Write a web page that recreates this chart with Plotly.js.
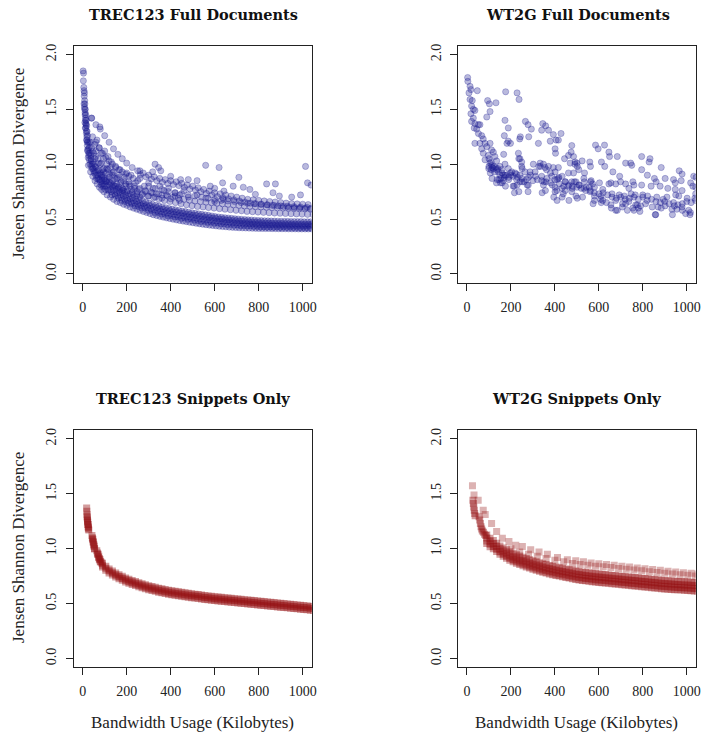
<!DOCTYPE html>
<html><head><meta charset="utf-8">
<script src="https://cdn.plot.ly/plotly-3.0.1.min.js"></script>
<style>html,body{margin:0;padding:0;background:#fff}#chart{width:702px;height:736px}</style>
</head><body><div id="chart"></div>
<script>
// ---------- tick labels ----------
const xTickVals = [0, 200, 400, 600, 800, 1000];
const xTickText = ["0", "200", "400", "600", "800", "1000"];
const yTickVals = [0, 0.5, 1, 1.5, 2];
const yTickText = ["0.0", "0.5", "1.0", "1.5", "2.0"];
const panelTitles = ["TREC123 Full Documents", "WT2G Full Documents", "TREC123 Snippets Only", "WT2G Snippets Only"];
const yLabel = "Jensen Shannon Divergence";
const xLabel = "Bandwidth Usage (Kilobytes)";

// ---------- TREC123 full documents ----------
const trecLowAX = [30,40,50,60,70,80,90,100,115,130,145,160,175,190,205,220,235,250,265,280,295,310,325,340,355,370,385,400,415,430,445,460,475,490,505,520,535,550,565,580,595,610,625,640,655,670,685,700,715,730,745,760,775,790,805,820,835,850,865,880,895,910,925,940,955,970,985,1000,1015,1030,1045];
const trecLowAY = [1.04,0.98,0.94,0.9,0.87,0.84,0.82,0.8,0.77,0.75,0.73,0.71,0.695,0.68,0.67,0.655,0.645,0.635,0.625,0.615,0.605,0.595,0.585,0.578,0.57,0.563,0.556,0.55,0.544,0.538,0.532,0.527,0.522,0.517,0.512,0.507,0.502,0.498,0.494,0.49,0.486,0.482,0.479,0.476,0.473,0.47,0.467,0.465,0.462,0.46,0.458,0.456,0.454,0.452,0.45,0.449,0.448,0.447,0.446,0.445,0.444,0.443,0.443,0.442,0.442,0.441,0.441,0.44,0.44,0.44,0.44];
const trecLowBX = [37,47,57,67,77,87,97,107,122,137,152,167,182,197,212,227,242,257,272,287,302,317,332,347,362,377,392,407,422,437,452,467,482,497,512,527,542,557,572,587,602,617,632,647,662,677,692,707,722,737,752,767,782,797,812,827,842,857,872,887,902,917,932,947,962,977,992,1007,1022,1037,1052];
const trecLowBY = [1.08,1.02,0.98,0.94,0.91,0.88,0.86,0.84,0.81,0.79,0.77,0.75,0.735,0.72,0.71,0.695,0.685,0.675,0.665,0.655,0.645,0.635,0.625,0.618,0.61,0.603,0.596,0.59,0.584,0.578,0.572,0.567,0.562,0.557,0.552,0.547,0.542,0.538,0.533,0.528,0.523,0.519,0.515,0.512,0.509,0.506,0.503,0.5,0.497,0.495,0.493,0.491,0.489,0.487,0.485,0.484,0.483,0.482,0.481,0.48,0.479,0.478,0.478,0.477,0.477,0.476,0.476,0.475,0.475,0.475,0.475];
const trecLowCX = [26,36,46,56,66,76,86,96,111,126,141,156,171,186,201,216,231,246,261,276,291,306,321,336,351,366,381,396,411,426,441,456,471,486,501,516,531,546,561,576,591,606,621,636,651,666,681,696,711,726,741,756,771,786,801,816,831,846,861,876,891,906,921,936,951,966,981,996,1011,1026,1041];
const trecLowCY = [0.99,0.93,0.89,0.85,0.82,0.79,0.77,0.75,0.72,0.7,0.68,0.66,0.65,0.635,0.625,0.61,0.6,0.59,0.58,0.57,0.56,0.55,0.54,0.533,0.525,0.518,0.511,0.505,0.499,0.493,0.487,0.482,0.477,0.472,0.467,0.462,0.457,0.453,0.449,0.445,0.442,0.438,0.435,0.432,0.43,0.427,0.425,0.423,0.421,0.42,0.419,0.418,0.417,0.416,0.415,0.415,0.414,0.414,0.413,0.413,0.412,0.412,0.412,0.411,0.411,0.411,0.41,0.41,0.41,0.41,0.41];
const trecLowDX = [33,43,53,63,73,83,93,103,118,133,148,163,178,193,208,223,238,253,268,283,298,313,328,343,358,373,388,403,418,433,448,463,478,493,508,523,538,553,568,583,598,613,628,643,658,673,688,703,718,733,748,763,778,793,808,823,838,853,868,883,898,913,928,943,958,973,988,1003,1018,1033];
const trecLowDY = [1.0,0.96,0.92,0.87,0.86,0.81,0.8,0.77,0.76,0.72,0.715,0.69,0.67,0.66,0.645,0.64,0.62,0.615,0.6,0.6,0.58,0.578,0.56,0.56,0.545,0.545,0.53,0.532,0.52,0.52,0.507,0.51,0.498,0.5,0.49,0.488,0.478,0.48,0.47,0.472,0.462,0.465,0.456,0.458,0.45,0.452,0.444,0.446,0.44,0.442,0.436,0.438,0.432,0.434,0.428,0.431,0.426,0.429,0.425,0.428,0.424,0.427,0.423,0.426,0.422,0.425,0.421,0.424,0.42,0.423];
const trecLowEX = [28,38,48,58,68,78,88,98,110,125,140,155,170,185,200,215,230,245,260,275,290,305,320,335,350,365,380,395,410,425,440,455,470,485,500,515,530,545,560,575,590,605,620,635,650,665,680,695,710,725,740,755,770,785,800,815,830,845,860,875,890,905,920,935,950,965,980,995,1010,1025,1040];
const trecLowEY = [1.08,1.03,0.96,0.93,0.9,0.86,0.85,0.82,0.8,0.77,0.76,0.74,0.72,0.71,0.69,0.685,0.665,0.66,0.645,0.64,0.625,0.622,0.607,0.605,0.592,0.59,0.578,0.577,0.566,0.565,0.555,0.554,0.544,0.543,0.535,0.533,0.525,0.524,0.516,0.515,0.508,0.507,0.5,0.499,0.493,0.492,0.487,0.486,0.482,0.481,0.477,0.476,0.473,0.472,0.469,0.468,0.466,0.465,0.463,0.462,0.461,0.46,0.459,0.458,0.457,0.456,0.456,0.455,0.455,0.454,0.454];
const trecMid1X = [60,85,110,135,160,185,210,235,260,285,310,335,360,385,410,435,460,485,510,535,560,585,610,635,660,685,710,735,760,785,810,835,860,885,910,935,960,985,1010,1035];
const trecMid1Y = [1.07,1.01,0.96,0.92,0.88,0.85,0.82,0.8,0.78,0.76,0.745,0.73,0.72,0.71,0.7,0.69,0.68,0.672,0.665,0.66,0.655,0.65,0.645,0.64,0.635,0.63,0.625,0.62,0.617,0.614,0.611,0.608,0.605,0.603,0.601,0.599,0.597,0.595,0.593,0.591];
const trecMid2X = [72,97,122,147,172,197,222,247,272,297,322,347,372,397,422,447,472,497,522,547,572,597,622,647,672,697,722,747,772,797,822,847,872,897,922,947,972,997,1022,1047];
const trecMid2Y = [1.01,0.96,0.91,0.87,0.83,0.8,0.77,0.75,0.73,0.71,0.695,0.68,0.67,0.66,0.65,0.64,0.63,0.622,0.615,0.61,0.605,0.6,0.595,0.59,0.585,0.58,0.575,0.57,0.567,0.564,0.561,0.558,0.555,0.553,0.551,0.549,0.547,0.545,0.543,0.541];
const trecUp1X = [40,60,80,100,120,140,160,180,200,225,250,275,300,325,350,375,400,425,450,475,500,525,550,575,600,625,650,675,700,725,750,775,800,825,850,875,900,925,950,975,1000,1025];
const trecUp1Y = [1.42,1.36,1.32,1.26,1.2,1.14,1.09,1.05,1.01,0.97,0.94,0.92,0.9,0.885,0.87,0.86,0.85,0.84,0.825,0.81,0.8,0.785,0.77,0.755,0.74,0.73,0.72,0.71,0.7,0.69,0.68,0.675,0.67,0.665,0.66,0.655,0.65,0.645,0.64,0.638,0.635,0.632];
const trecUp2X = [262,287,312,337,362,387,412,437,462,487,512,537,562,587,612,637,662,687,712,737,762,787,812,837,862,887,912,937,962,987,1012,1037];
const trecUp2Y = [0.905,0.885,0.865,0.85,0.835,0.825,0.815,0.805,0.79,0.775,0.765,0.75,0.735,0.72,0.705,0.695,0.685,0.675,0.665,0.655,0.645,0.64,0.635,0.63,0.625,0.62,0.615,0.61,0.605,0.603,0.6,0.597];
const trecUp3X = [300,330,360,390,420,450,480,510,540,570,600,630,660,690,720,750,780,810,840,870,900,930,960,990,1020];
const trecUp3Y = [0.8,0.78,0.77,0.75,0.74,0.73,0.72,0.71,0.7,0.69,0.68,0.67,0.665,0.66,0.65,0.645,0.64,0.635,0.63,0.625,0.62,0.617,0.613,0.61,0.607];
const trecColX = [2,4,3,5,6,8,7,9,10,8,12,11,14,13,16,15,18,12,20,17,22,19,24,21,26,23,28,25,30,35,33,38,45,42,55,50,6,9,11,13,15,17,19,21,10,14,18,22];
const trecColY = [1.85,1.83,1.76,1.70,1.67,1.65,1.62,1.58,1.55,1.52,1.5,1.47,1.45,1.42,1.4,1.37,1.35,1.33,1.3,1.28,1.26,1.22,1.2,1.17,1.14,1.12,1.1,1.06,1.15,1.2,1.1,1.05,1.12,1.0,1.05,1.1,1.55,1.5,1.45,1.4,1.36,1.3,1.25,1.2,1.38,1.33,1.22,1.13];
const trecFillX = [30,40,45,55,60,65,70,75,80,85,90,95,100,105,110,115,120,125,130,135,140,150,155,165,170,180,190,200,210,220,240,260,280,300,320,350,370,390,420,440,460,480,520,560,600,640];
const trecFillY = [1.2,1.15,1.25,1.18,1.12,1.22,1.05,1.15,1.0,1.1,0.95,1.05,1.12,0.92,1.0,1.07,0.88,0.97,1.02,0.85,0.93,0.98,0.82,0.9,0.95,0.78,0.88,0.92,0.84,0.9,0.83,0.87,0.8,0.83,0.78,0.8,0.76,0.78,0.74,0.72,0.76,0.7,0.72,0.69,0.66,0.68];
const trecFill2X = [50,60,70,80,90,100,110,120,130,140,150,160,170,180,190,200,215,230,245,260,60,75,90,105,120,135,150,165,180,195,210,230,250];
const trecFill2Y = [1.0,0.97,0.95,0.92,0.9,0.87,0.86,0.84,0.82,0.81,0.8,0.78,0.77,0.76,0.75,0.745,0.73,0.72,0.71,0.7,1.2,1.15,1.1,1.06,1.03,1.0,0.97,0.95,0.93,0.91,0.89,0.87,0.85];
const trecFill3X = [85,95,105,115,125,135,145,155,165,175,185,195,205,215,225,235,245,255,270,285,300,315,330,345,360,380,400,420,440];
const trecFill3Y = [0.9,0.93,0.85,0.95,0.83,0.9,0.8,0.87,0.79,0.84,0.77,0.82,0.76,0.8,0.745,0.78,0.73,0.77,0.72,0.75,0.71,0.74,0.7,0.73,0.69,0.72,0.685,0.71,0.67];
const trecOutX = [329,345,318,355,400,445,559,620,1013,636,710,684,730,836,876,1022,1038,642,785,865,894,260,78,41,520,480,600,580,760,950,990];
const trecOutY = [1.0,0.97,0.93,0.94,0.89,0.86,0.99,0.97,0.98,0.83,0.88,0.8,0.79,0.82,0.82,0.83,0.81,0.755,0.725,0.74,0.71,0.94,1.34,1.42,0.85,0.86,0.78,0.8,0.77,0.7,0.72];

// ---------- WT2G full documents (x, y pairs) ----------
const wt2gFullPts = [
[3,1.79],[4,1.755],[14,1.71],[18,1.68],[9,1.65],[14,1.59],[24,1.58],[21,1.53],[29,1.50],[36,1.49],[18,1.46],[29,1.42],[21,1.39],[36,1.37],[52,1.36],[59,1.36],[44,1.32],[33,1.33],[52,1.28],[67,1.26],[74,1.23],[36,1.19],[59,1.19],[82,1.19],[67,1.14],[90,1.16],[105,1.19],[112,1.13],[74,1.10],[97,1.08],[120,1.11],[127,1.07],[82,1.04],[105,1.01],[112,0.99],[135,1.03],[150,0.98],[120,0.96],[143,0.93],[158,0.95],[173,1.0],[154,0.87],[173,0.90],[188,0.96],[204,0.93],[219,0.92],[234,1.10],[241,1.05],[249,1.02],[249,0.98],[226,0.86],[241,0.84],[215,0.80],[279,0.81],[264,0.93],[287,0.93],[302,1.0],[310,0.93],[333,1.01],[348,1.0],[355,0.97],[371,0.98],[393,0.97],[401,0.93],[416,0.97],[340,0.89],[363,0.87],[386,0.89],[416,0.87],[447,0.84],[462,0.92],[485,0.92],[477,0.84],[348,0.81],[401,0.79],[409,0.76],[432,0.78],[447,0.76],[477,0.75],[401,0.75],
[47,1.67],[176,1.66],[228,1.65],[237,1.59],[94,1.58],[102,1.55],[132,1.56],[105,1.48],[90,1.43],[173,1.40],[188,1.33],[170,1.26],[188,1.21],[243,1.25],[266,1.39],[278,1.36],[293,1.32],[281,1.25],[325,1.19],[345,1.37],[358,1.35],[340,1.31],[371,1.31],[393,1.27],[428,1.28],[379,1.21],[406,1.22],[416,1.22],[401,1.14],[477,1.17],[474,1.11],[485,1.07],[462,1.08],[444,1.05],[492,1.02],[167,1.09],[403,1.10],[236,1.05],[251,0.96],[240,1.23],[198,1.19],[182,1.19],
[585,1.174],[597,1.14],[626,1.174],[646,1.11],[649,1.07],[684,1.07],[501,1.01],[524,1.03],[612,1.02],[627,0.98],[562,0.98],[664,0.93],[722,1.01],[745,1.01],[750,0.99],[795,1.07],[833,1.05],[829,1.02],[795,0.95],[821,0.90],[884,0.97],[966,0.94],[979,0.91],[1032,0.89],[940,0.86],[948,0.83],[975,0.85],[853,0.87],[902,0.87],[861,0.84],[695,0.89],[699,0.84],[677,0.82],[646,0.82],[655,0.83],[755,0.84],[760,0.81],[737,0.78],[722,0.82],[795,0.81],[838,0.80],[879,0.80],[914,0.78],[948,0.77],[979,0.76],[1028,0.80],[496,0.84],[534,0.84],[565,0.85],[572,0.82],[603,0.83],[511,0.81],[542,0.79],[557,0.79],[580,0.79],[618,0.77],[496,0.71],[526,0.70],[580,0.71],[610,0.71],[660,0.73],[693,0.72],[716,0.71],[747,0.73],[766,0.72],[800,0.72],[822,0.71],[864,0.70],[893,0.68],[910,0.70],[950,0.72],[964,0.71],[1002,0.69],[1037,0.69],[580,0.67],[618,0.67],[655,0.63],[677,0.67],[708,0.64],[722,0.64],[737,0.66],[768,0.63],[790,0.62],[813,0.64],[843,0.61],[870,0.61],[902,0.62],[933,0.59],[955,0.59],[979,0.61],[1009,0.58],[1017,0.56],[677,0.58],[857,0.54],[755,0.60],[780,0.60],[884,0.60],[944,0.62],
[1043,0.88],[1041,0.73],[1041,0.79],[1018,0.83],[470,1.01],[491,1.0],
[289,0.90],[312,0.89],[274,0.81],[278,0.75],[236,0.75],[216,0.74],[228,0.81],[251,0.84],[198,0.92],[167,0.90],[160,0.83],[175,0.80],[210,0.80],[190,0.86],[152,0.83],[137,0.86],[114,0.87],[134,0.83],[106,0.92],[99,0.96],[122,0.98],[350,0.84],[357,0.76],[342,0.74],[388,0.81],[410,0.86],[418,0.88],[380,0.92],[362,0.95],[334,0.98],[327,0.98],[433,0.89],[448,0.84],[464,0.81],[479,0.78],[489,0.84],[509,0.81],[532,0.87],[562,0.84],[535,0.92],[509,0.95],[502,0.98],[559,1.02],
[395,0.70],[410,0.67],[433,0.70],[438,0.73],[464,0.67],[502,0.69],[532,0.78],[562,0.76],[574,0.64],[608,0.68],[611,0.65],[635,0.65],[657,0.60],[684,0.58],[707,0.61],[730,0.58],[760,0.58],[775,0.63],[787,0.57],[859,0.54],[935,0.54],[980,0.58],[995,0.55],[1015,0.54],
[100,1.05],[110,1.02],[130,0.97],[140,0.96],[160,0.92],[180,0.9],[200,0.9],[110,0.95],[125,0.93],[150,0.9],[170,0.88],[190,0.88],[210,0.89],[230,0.88],[250,0.87],[270,0.86],[100,0.98],[115,0.97],[135,0.95],[145,0.86],[165,0.85],[225,0.91],[240,0.9],[260,0.84],[280,0.88],[300,0.85],[320,0.86],[340,0.85],[360,0.84],[380,0.83],[400,0.86],[420,0.82],[440,0.8],[460,0.8],[480,0.8],[500,0.79],[520,0.78],[540,0.76],[560,0.75],[580,0.74],[600,0.73],[620,0.74],[640,0.72],[660,0.7],[680,0.69],[700,0.7],[720,0.68],[740,0.69],[760,0.7],[780,0.68],[800,0.7],[820,0.67],[840,0.68],[860,0.66],[880,0.65],[900,0.66],[920,0.64],[940,0.65],[960,0.63],[980,0.64],[1000,0.66],[1020,0.65],[1040,0.67]
];

// ---------- TREC123 snippets ----------
const snipX = [90,105,120,135,150,165,180,195,210,225,240,255,270,285,300,315,330,345,360,375,390,405,420,435,450,465,480,495,510,525,540,555,570,585,600,615,630,645,660,675,690,705,720,735,750,765,780,795,810,825,840,855,870,885,900,915,930,945,960,975,990,1005,1020,1035,1050];
const trecSnipLow = [0.832,0.804,0.779,0.76,0.742,0.727,0.712,0.697,0.685,0.674,0.664,0.654,0.645,0.636,0.627,0.619,0.612,0.604,0.598,0.592,0.586,0.581,0.576,0.571,0.567,0.562,0.558,0.554,0.55,0.546,0.542,0.538,0.534,0.53,0.527,0.524,0.521,0.518,0.515,0.512,0.509,0.506,0.503,0.5,0.497,0.494,0.491,0.488,0.485,0.482,0.479,0.476,0.473,0.47,0.467,0.464,0.461,0.458,0.455,0.452,0.449,0.446,0.443,0.44,0.437];
const trecSnipMid = [0.85,0.822,0.797,0.778,0.76,0.745,0.73,0.715,0.703,0.692,0.682,0.672,0.663,0.654,0.645,0.637,0.63,0.622,0.616,0.61,0.604,0.599,0.594,0.589,0.585,0.58,0.576,0.572,0.568,0.564,0.56,0.556,0.552,0.548,0.545,0.542,0.539,0.536,0.533,0.53,0.527,0.524,0.521,0.518,0.515,0.512,0.509,0.506,0.503,0.5,0.497,0.494,0.491,0.488,0.485,0.482,0.479,0.476,0.473,0.47,0.467,0.464,0.461,0.458,0.455];
const trecSnipHigh = [0.868,0.84,0.815,0.796,0.778,0.763,0.748,0.733,0.721,0.71,0.7,0.69,0.681,0.672,0.663,0.655,0.648,0.64,0.634,0.628,0.622,0.617,0.612,0.607,0.603,0.598,0.594,0.59,0.586,0.582,0.578,0.574,0.57,0.566,0.563,0.56,0.557,0.554,0.551,0.548,0.545,0.542,0.539,0.536,0.533,0.53,0.527,0.524,0.521,0.518,0.515,0.512,0.509,0.506,0.503,0.5,0.497,0.494,0.491,0.488,0.485,0.482,0.479,0.476,0.473];
const trecSnipEarlyX = [18,19,20,21,22,23,24,25,26,42,44,46,48,50,52,54,64,67,70,73,76,79,82,86,20,22,24,26,28,45,48,51,54,68,72,76,80];
const trecSnipEarlyY = [1.37,1.34,1.31,1.28,1.26,1.24,1.22,1.20,1.18,1.12,1.10,1.08,1.06,1.04,1.02,1.0,0.98,0.96,0.95,0.93,0.91,0.9,0.88,0.87,1.29,1.25,1.22,1.19,1.17,1.09,1.06,1.03,1.0,0.95,0.92,0.9,0.88];

// ---------- WT2G snippets ----------
const wt2gDarkLow2 = [1.048,1.018,0.998,0.973,0.948,0.93,0.912,0.894,0.88,0.868,0.856,0.844,0.834,0.823,0.813,0.804,0.795,0.786,0.778,0.77,0.763,0.756,0.75,0.744,0.738,0.732,0.726,0.72,0.715,0.711,0.707,0.703,0.699,0.696,0.693,0.69,0.687,0.684,0.681,0.678,0.675,0.672,0.669,0.666,0.663,0.66,0.657,0.654,0.651,0.648,0.645,0.642,0.639,0.636,0.633,0.631,0.629,0.627,0.625,0.623,0.621,0.619,0.617,0.615,0.613];
const wt2gDarkLo = [1.07,1.04,1.02,0.995,0.97,0.952,0.934,0.916,0.902,0.89,0.878,0.866,0.856,0.845,0.835,0.826,0.817,0.808,0.8,0.792,0.785,0.778,0.772,0.766,0.76,0.754,0.748,0.742,0.737,0.733,0.729,0.725,0.721,0.718,0.715,0.712,0.709,0.706,0.703,0.7,0.697,0.694,0.691,0.688,0.685,0.682,0.679,0.676,0.673,0.67,0.667,0.664,0.661,0.658,0.655,0.653,0.651,0.649,0.647,0.645,0.643,0.641,0.639,0.637,0.635];
const wt2gDarkMid = [1.097,1.067,1.047,1.022,0.997,0.979,0.961,0.943,0.929,0.917,0.905,0.893,0.883,0.872,0.862,0.853,0.844,0.835,0.827,0.819,0.812,0.805,0.799,0.793,0.787,0.781,0.775,0.769,0.764,0.76,0.756,0.752,0.748,0.745,0.742,0.739,0.736,0.733,0.73,0.727,0.724,0.721,0.718,0.715,0.712,0.709,0.706,0.703,0.7,0.697,0.694,0.691,0.688,0.685,0.682,0.68,0.678,0.676,0.674,0.672,0.67,0.668,0.666,0.664,0.662];
const wt2gDarkHi = [1.125,1.095,1.075,1.05,1.025,1.007,0.989,0.971,0.957,0.945,0.933,0.921,0.911,0.9,0.89,0.881,0.872,0.863,0.855,0.847,0.84,0.833,0.827,0.821,0.815,0.809,0.803,0.797,0.792,0.788,0.784,0.78,0.776,0.773,0.77,0.767,0.764,0.761,0.758,0.755,0.752,0.749,0.746,0.743,0.74,0.737,0.734,0.731,0.728,0.725,0.722,0.719,0.716,0.713,0.71,0.708,0.706,0.704,0.702,0.7,0.698,0.696,0.694,0.692,0.69];
const wt2gDarkEarlyX = [27,29,31,33,35,37,55,58,61,64,67,70,75,80,85];
const wt2gDarkEarlyY = [1.44,1.41,1.38,1.35,1.32,1.3,1.29,1.26,1.23,1.2,1.18,1.16,1.15,1.13,1.12];
const wt2gLight1X = [25,32,51,74,83,112,135,161,191,222,252,290,328,366,412,457,495,530,565,600,635,670,705,740,775,810,845,880,915,950,985,1020,1050];
const wt2gLight1Y = [1.573,1.488,1.44,1.35,1.31,1.23,1.155,1.094,1.064,1.03,1.02,0.99,0.97,0.95,0.92,0.9,0.89,0.88,0.87,0.862,0.855,0.848,0.84,0.833,0.825,0.818,0.81,0.803,0.795,0.788,0.781,0.775,0.77];
const wt2gLight2X = [200,240,280,320,360,400,440,480,515,550,585,620,655,690,725,760,795,830,865,900,935,970,1005,1040];
const wt2gLight2Y = [1.0,0.97,0.95,0.93,0.91,0.895,0.88,0.865,0.855,0.85,0.84,0.835,0.828,0.82,0.812,0.805,0.798,0.79,0.783,0.776,0.77,0.763,0.757,0.752];

// ---------- build ----------
const blue = 'rgba(28,28,145,0.31)';
const blueEdge = 'rgba(28,28,145,0.35)';
const red = 'rgba(150,20,22,0.42)';
const redLight = 'rgba(150,20,22,0.33)';
function circles(x, y, ax) {
  return {type:'scatter', mode:'markers', x:x, y:y, xaxis:'x'+ax, yaxis:'y'+ax, hoverinfo:'skip',
    marker:{symbol:'circle', size:6.2, color:blue, line:{width:0.8, color:blueEdge}}};
}
function squares(x, y, ax, col) {
  return {type:'scatter', mode:'markers', x:x, y:y, xaxis:'x'+ax, yaxis:'y'+ax, hoverinfo:'skip',
    marker:{symbol:'square', size:7, color:col || red, line:{width:0}}};
}
const data = [
  circles(trecLowAX, trecLowAY, ''), circles(trecLowBX, trecLowBY, ''), circles(trecLowCX, trecLowCY, ''),
  circles(trecLowDX, trecLowDY, ''), circles(trecLowEX, trecLowEY, ''),
  circles(trecMid1X, trecMid1Y, ''), circles(trecMid2X, trecMid2Y, ''),
  circles(trecUp1X, trecUp1Y, ''), circles(trecUp2X, trecUp2Y, ''), circles(trecUp3X, trecUp3Y, ''),
  circles(trecColX, trecColY, ''), circles(trecFillX, trecFillY, ''), circles(trecFill2X, trecFill2Y, ''),
  circles(trecFill3X, trecFill3Y, ''), circles(trecOutX, trecOutY, ''),
  circles(wt2gFullPts.map(p => p[0]), wt2gFullPts.map(p => p[1]), '2'),
  squares(trecSnipEarlyX, trecSnipEarlyY, '3'),
  squares(snipX, trecSnipLow, '3'), squares(snipX, trecSnipMid, '3'), squares(snipX, trecSnipHigh, '3'),
  squares(wt2gLight1X, wt2gLight1Y, '4', redLight), squares(wt2gLight2X, wt2gLight2Y, '4', redLight),
  squares(wt2gDarkEarlyX, wt2gDarkEarlyY, '4'),
  squares(snipX, wt2gDarkLow2, '4'), squares(snipX, wt2gDarkLo, '4'), squares(snipX, wt2gDarkMid, '4'), squares(snipX, wt2gDarkHi, '4')
];

const serif = '"Liberation Serif", "Times New Roman", Times, serif';
const tickFont = {family:serif, size:14, color:'#222'};
function xa(domain, anchor) {
  return {domain:domain, anchor:anchor, range:[-39.5, 1041], tickvals:xTickVals, ticktext:xTickText,
    ticks:'outside', ticklen:7, tickwidth:1, tickcolor:'#222', showline:true, linecolor:'#222', linewidth:1,
    mirror:true, showgrid:false, zeroline:false, tickfont:tickFont, ticklabelstandoff:4, fixedrange:true};
}
function ya(domain, anchor) {
  return {domain:domain, anchor:anchor, range:[-0.08, 2.08], tickvals:yTickVals, ticktext:yTickText,
    ticks:'outside', ticklen:7, tickwidth:1, tickcolor:'#222', showline:true, linecolor:'#222', linewidth:1,
    mirror:true, showgrid:false, zeroline:false, tickfont:tickFont, tickangle:-90, ticklabelstandoff:4, fixedrange:true};
}
const colL = [74/702, 311.7/702], colR = [458.3/702, 695.7/702];
const rowT = [1-282.7/736, 1-45.7/736], rowB = [1-667.3/736, 1-430/736];
const titleFont = {family:'"DejaVu Serif", serif', size:14.5, color:'#111'};
const labFont = {family:serif, size:17, color:'#222'};
function ann(text, x, y, font, angle) {
  return {text:text, x:x/702, y:1-y/736, xref:'paper', yref:'paper', showarrow:false,
    xanchor:'center', yanchor:'middle', font:font, textangle:angle || 0};
}
const layout = {
  width:702, height:736, margin:{l:0, r:0, t:0, b:0}, paper_bgcolor:'#fff', plot_bgcolor:'#fff', showlegend:false,
  xaxis:xa(colL,'y'), yaxis:ya(rowT,'x'),
  xaxis2:xa(colR,'y2'), yaxis2:ya(rowT,'x2'),
  xaxis3:xa(colL,'y3'), yaxis3:ya(rowB,'x3'),
  xaxis4:xa(colR,'y4'), yaxis4:ya(rowB,'x4'),
  annotations:[
    ann('<b>'+panelTitles[0]+'</b>', 193, 14, titleFont),
    ann('<b>'+panelTitles[1]+'</b>', 577.5, 14, titleFont),
    ann('<b>'+panelTitles[2]+'</b>', 193, 398, titleFont),
    ann('<b>'+panelTitles[3]+'</b>', 576.5, 398, titleFont),
    ann(yLabel, 18, 164, labFont, -90),
    ann(yLabel, 18, 548, labFont, -90),
    ann(xLabel, 192.5, 722.5, labFont),
    ann(xLabel, 576, 722.5, labFont)
  ]
};
Plotly.newPlot('chart', data, layout, {staticPlot:true, displayModeBar:false});
</script></body></html>
